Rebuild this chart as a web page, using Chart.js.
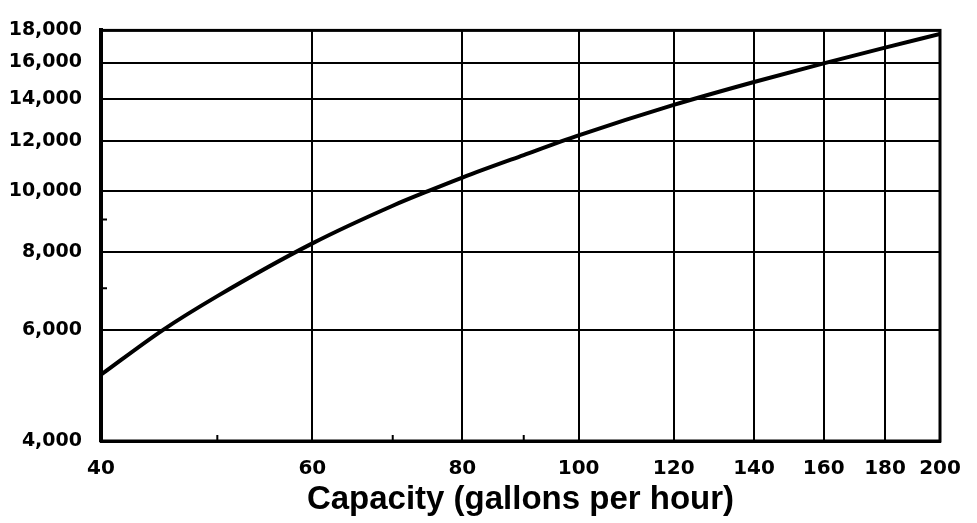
<!DOCTYPE html>
<html>
<head>
<meta charset="utf-8">
<script src="https://cdn.jsdelivr.net/npm/chart.js@4.4.1/dist/chart.umd.min.js"></script>
<style>
  body { margin: 0; background: #fff; }
  #chart { display: block; }
</style>
</head>
<body>
<canvas id="chart" width="977" height="523"></canvas>
<script>
// values (log-log plot)
const capacity = [40, 45, 50, 60, 70, 75, 80, 90, 100, 120, 140, 160, 180, 200];
const output = [5100, 6000, 6800, 8250, 9470, 10000, 10500, 11400, 12250, 13700, 14900, 15950, 16900, 17760];

const xTicks = [40, 60, 80, 100, 120, 140, 160, 180, 200];
const xMinor = [50, 70, 90];
const yTicks = [4000, 6000, 8000, 10000, 12000, 14000, 16000, 18000];
const yMinor = [7000, 9000];

const frame = {
  id: 'frame',
  afterDraw(chart) {
    const ctx = chart.ctx;
    const a = chart.chartArea;
    const xs = chart.scales.x, ys = chart.scales.y;
    ctx.save();
    ctx.strokeStyle = '#000';
    ctx.lineWidth = 2;
    ctx.beginPath();
    xMinor.forEach(v => {
      const px = xs.getPixelForValue(v);
      ctx.moveTo(px, a.bottom);
      ctx.lineTo(px, a.bottom - 6);
    });
    yMinor.forEach(v => {
      const py = ys.getPixelForValue(v);
      ctx.moveTo(a.left, py);
      ctx.lineTo(a.left + 6, py);
    });
    ctx.stroke();
    ctx.lineWidth = 3;
    ctx.strokeRect(a.left, a.top, a.right - a.left, a.bottom - a.top);
    ctx.restore();
  }
};

new Chart(document.getElementById('chart').getContext('2d'), {
  type: 'line',
  data: {
    datasets: [{
      data: capacity.map((c, i) => ({ x: c, y: output[i] })),
      borderColor: '#000',
      borderWidth: 4,
      pointRadius: 0,
      cubicInterpolationMode: 'monotone',
      fill: false
    }]
  },
  options: {
    responsive: false,
    animation: false,
    layout: { padding: { top: 19, right: 37, left: 0, bottom: 0 } },
    plugins: { legend: { display: false }, tooltip: { enabled: false } },
    scales: {
      x: {
        type: 'logarithmic',
        min: 40,
        max: 200,
        afterBuildTicks: s => { s.ticks = xTicks.map(v => ({ value: v })); },
        afterFit: s => { s.height = 82; },
        ticks: {
          autoSkip: false,
          maxRotation: 0,
          color: '#000',
          padding: 16,
          font: { family: 'DejaVu Sans', size: 20, weight: 'bold' },
          callback: v => String(v)
        },
        grid: { color: '#000', lineWidth: 2, drawTicks: false },
        border: { color: '#000', width: 3 },
        title: {
          display: true,
          text: 'Capacity (gallons per hour)',
          color: '#000',
          font: { family: 'Liberation Sans', size: 33, weight: 'bold' },
          padding: { top: 0, bottom: 3 }
        }
      },
      y: {
        type: 'logarithmic',
        min: 4000,
        max: 18000,
        afterBuildTicks: s => { s.ticks = yTicks.map(v => ({ value: v })); },
        afterFit: s => { s.width = 101; },
        ticks: {
          autoSkip: false,
          color: '#000',
          padding: 19,
          font: { family: 'DejaVu Sans', size: 19, weight: 'bold' },
          callback: v => Number(v).toLocaleString('en-US')
        },
        grid: { color: '#000', lineWidth: 2, drawTicks: false },
        border: { color: '#000', width: 4 }
      }
    }
  },
  plugins: [frame]
});
</script>
</body>
</html>
